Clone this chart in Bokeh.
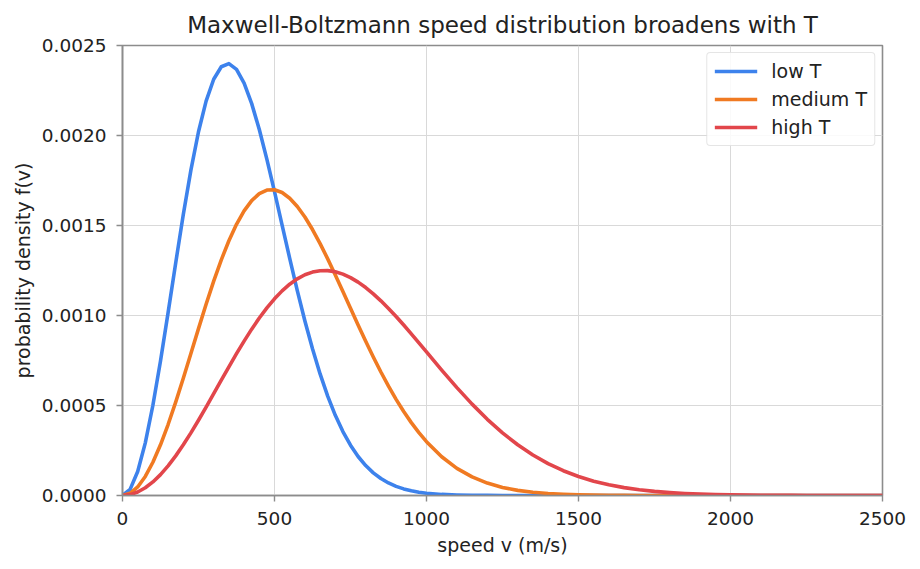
from bokeh.plotting import figure
from bokeh.models import Range1d, SingleIntervalTicker, PrintfTickFormatter, Legend, LegendItem
from bokeh.embed import file_html
from bokeh.resources import INLINE

# Speed samples (m/s): fine steps up to 1000, coarser in the tails
speed = [
    0, 25, 50, 75, 100, 125, 150, 175, 200, 225, 250, 275, 300, 325, 350, 375,
    400, 425, 450, 475, 500, 525, 550, 575, 600, 625, 650, 675, 700, 725, 750,
    775, 800, 825, 850, 875, 900, 925, 950, 975, 1000,
    1050, 1100, 1150, 1200, 1250, 1300, 1350, 1400, 1450, 1500, 1550, 1600,
    1650, 1700, 1750, 1800, 1850, 1900, 1950, 2000, 2050, 2100, 2150, 2200,
    2250, 2300, 2350, 2400, 2450, 2500,
]

density_low = [
    0.0, 0.0000339, 0.0001334, 0.0002925, 0.0005013, 0.0007473, 0.0010160,
    0.0012922, 0.0015606, 0.0018074, 0.0020207, 0.0021912, 0.0023126,
    0.0023820, 0.0023994, 0.0023674, 0.0022910, 0.0021771, 0.0020332,
    0.0018674, 0.0016880, 0.0015026, 0.0013175, 0.0011383, 0.0009697,
    0.0008149, 0.0006753, 0.0005522, 0.0004456, 0.0003550, 0.0002792,
    0.0002168, 0.0001663, 0.0001259, 0.0000942, 0.0000696, 0.0000509,
    0.0000367, 0.0000262, 0.0000185, 0.0000128,
    0.0000060, 0.0000027, 0.0000011, 0.0000005, 0.0000002, 0.0, 0.0, 0.0,
    0.0, 0.0, 0.0, 0.0, 0.0, 0.0, 0.0, 0.0, 0.0, 0.0, 0.0, 0.0, 0.0, 0.0,
    0.0, 0.0, 0.0, 0.0, 0.0, 0.0, 0.0, 0.0,
]

density_medium = [
    0.0, 0.0000120, 0.0000476, 0.0001058, 0.0001846, 0.0002818, 0.0003943,
    0.0005188, 0.0006517, 0.0007891, 0.0009272, 0.0010622, 0.0011907,
    0.0013094, 0.0014155, 0.0015068, 0.0015815, 0.0016384, 0.0016768,
    0.0016968, 0.0016986, 0.0016831, 0.0016517, 0.0016056, 0.0015470,
    0.0014775, 0.0013995, 0.0013147, 0.0012253, 0.0011332, 0.0010400,
    0.0009474, 0.0008569, 0.0007694, 0.0006860, 0.0006075, 0.0005342,
    0.0004666, 0.0004049, 0.0003492, 0.0002989,
    0.0002151, 0.0001508, 0.0001032, 0.0000689, 0.0000449, 0.0000285,
    0.0000177, 0.0000107, 0.0000064, 0.0000037, 0.0000021, 0.0000012,
    0.0000006, 0.0000003, 0.0000002, 0.0000001, 0.0, 0.0, 0.0, 0.0, 0.0,
    0.0, 0.0, 0.0, 0.0, 0.0, 0.0, 0.0, 0.0, 0.0,
]

density_high = [
    0.0, 0.0000048, 0.0000192, 0.0000428, 0.0000753, 0.0001162, 0.0001648,
    0.0002202, 0.0002815, 0.0003478, 0.0004180, 0.0004910, 0.0005655,
    0.0006407, 0.0007151, 0.0007879, 0.0008578, 0.0009242, 0.0009859,
    0.0010423, 0.0010928, 0.0011368, 0.0011739, 0.0012037, 0.0012262,
    0.0012412, 0.0012489, 0.0012493, 0.0012428, 0.0012297, 0.0012105,
    0.0011855, 0.0011552, 0.0011203, 0.0010815, 0.0010393, 0.0009942,
    0.0009470, 0.0008981, 0.0008482, 0.0007978,
    0.0006970, 0.0005994, 0.0005077, 0.0004234, 0.0003480, 0.0002819,
    0.0002251, 0.0001772, 0.0001376, 0.0001054, 0.0000796, 0.0000594,
    0.0000437, 0.0000317, 0.0000227, 0.0000161, 0.0000112, 0.0000077,
    0.0000053, 0.0000035, 0.0000024, 0.0000015, 0.0000010, 0.0000006,
    0.0000004, 0.0000003, 0.0000002, 0.0000001, 0.0000001, 0.0,
]

series_labels = ["low T", "medium T", "high T"]
series_colors = ["#3d82ec", "#f07a22", "#e2464b"]

FONT = "DejaVu Sans"
TEXT = "#222222"
SPINE = "#8c8c8c"

p = figure(
    width=920, height=569,
    output_backend="svg", toolbar_location=None,
    x_range=Range1d(0, 2500), y_range=Range1d(0, 0.0025),
    min_border_left=122, min_border_right=38,
    min_border_top=45, min_border_bottom=74,
)

p.title.text = "Maxwell-Boltzmann speed distribution broadens with T"
p.title.text_font = FONT
p.title.text_font_size = "23px"
p.title.text_font_style = "normal"
p.title.text_color = TEXT
p.title.align = "center"
p.title.standoff = 16

renderers = []
for ys, col in zip([density_low, density_medium, density_high], series_colors):
    r = p.line(speed, ys, line_color=col, line_width=3.6, line_join="round")
    renderers.append(r)

legend = Legend(
    items=[LegendItem(label=lab, renderers=[r]) for lab, r in zip(series_labels, renderers)],
    location="top_right",
)
legend.label_text_font = FONT
legend.label_text_font_size = "19px"
legend.label_text_color = TEXT
legend.glyph_width = 43
legend.glyph_height = 18
legend.label_height = 18
legend.label_standoff = 14
legend.spacing = 6
legend.padding = 7
legend.margin = 7
legend.border_line_color = "#cccccc"
legend.border_line_width = 1
legend.border_radius = 4
legend.background_fill_alpha = 0.85
p.add_layout(legend)

p.xaxis.ticker = SingleIntervalTicker(interval=500)
p.yaxis.ticker = SingleIntervalTicker(interval=0.0005)
p.yaxis.formatter = PrintfTickFormatter(format="%.4f")

p.xaxis.axis_label = "speed v (m/s)"
p.yaxis.axis_label = "probability density f(v)"
for ax in (p.xaxis, p.yaxis):
    ax.axis_label_text_font = FONT
    ax.axis_label_text_font_size = "19px"
    ax.axis_label_text_font_style = "normal"
    ax.axis_label_text_color = TEXT
    ax.major_label_text_font = FONT
    ax.major_label_text_font_size = "18.5px"
    ax.major_label_text_color = TEXT
    ax.major_label_standoff = 10
    ax.axis_line_color = SPINE
    ax.axis_line_width = 1.6
    ax.major_tick_line_color = SPINE
    ax.major_tick_line_width = 1.4
    ax.major_tick_out = 6
    ax.major_tick_in = 0
    ax.minor_tick_line_color = None
p.xaxis.axis_label_standoff = 6
p.yaxis.axis_label_standoff = 5

p.xgrid.grid_line_color = "#d9d9d9"
p.ygrid.grid_line_color = "#d9d9d9"
p.xgrid.grid_line_width = 1
p.ygrid.grid_line_width = 1

p.outline_line_color = SPINE
p.outline_line_width = 1.6
p.background_fill_color = "white"
p.border_fill_color = "white"

open("out.html", "w").write(file_html(p, INLINE))
